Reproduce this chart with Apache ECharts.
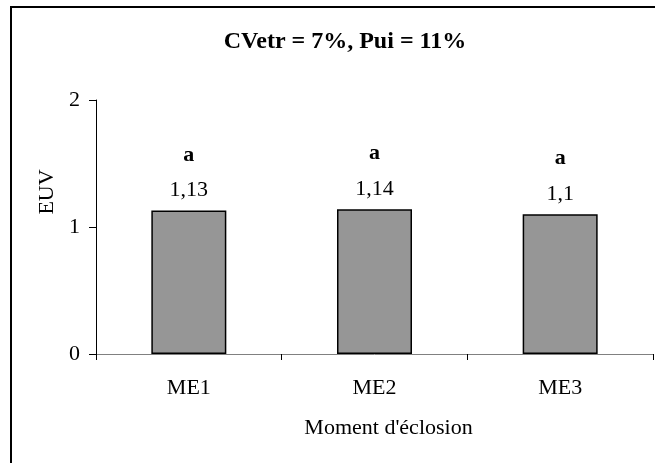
<!DOCTYPE html>
<html>
<head>
<meta charset="utf-8">
<script src="https://cdn.jsdelivr.net/npm/echarts@6/dist/echarts.min.js"></script>
<style>
html,body{margin:0;padding:0;background:#fff;}
#c{width:655px;height:463px;}
</style>
</head>
<body>
<div id="c"></div>
<script>
const categories = ['ME1', 'ME2', 'ME3'];
const values = [1.13, 1.14, 1.1];
const valueLabels = ['1,13', '1,14', '1,1'];
const letters = ['a', 'a', 'a'];
const yTicks = [0, 1, 2];
const titleText = 'CVetr = 7%, Pui = 11%';
const xName = "Moment d'éclosion";
const yName = 'EUV';

const FONT = '"Liberation Serif", "Times New Roman", serif';
const chart = echarts.init(document.getElementById('c'));
chart.setOption({
  backgroundColor: '#fff',
  animation: false,
  title: {
    text: titleText,
    left: 340, top: 25, textAlign: 'center',
    textStyle: { fontFamily: FONT, fontSize: 24, fontWeight: 'bold', color: '#000' }
  },
  graphic: [{
    type: 'rect', shape: { x: 11, y: 7, width: 700, height: 500 },
    style: { fill: 'none', stroke: '#000', lineWidth: 2 }, silent: true
  }],
  grid: { left: 96, right: 2, top: 100, bottom: 109 },
  xAxis: {
    type: 'category', data: categories,
    name: xName, nameLocation: 'middle', nameGap: 63,
    nameTextStyle: { fontFamily: FONT, fontSize: 22, color: '#000', padding: [0, 0, 0, 28] },
    axisLine: { lineStyle: { color: '#808080', width: 1 } },
    axisTick: { show: true, length: 6, lineStyle: { color: '#000' } },
    axisLabel: { fontFamily: FONT, fontSize: 22, color: '#000', margin: 23 }
  },
  yAxis: {
    type: 'value', min: yTicks[0], max: yTicks[yTicks.length - 1], interval: 1,
    name: yName, nameLocation: 'middle', nameGap: 34,
    nameTextStyle: { fontFamily: FONT, fontSize: 22, color: '#000', padding: [0, 0, 0, 70] },
    axisLine: { show: true, lineStyle: { color: '#000', width: 1 } },
    axisTick: { show: true, length: 7, lineStyle: { color: '#000' } },
    axisLabel: { fontFamily: FONT, fontSize: 22, color: '#000', margin: 16 },
    splitLine: { show: false }
  },
  series: [{
    type: 'bar',
    data: values,
    barWidth: 75,
    itemStyle: { color: '#969696', borderColor: '#000', borderWidth: 1.5 },
    label: {
      show: true, position: 'top', distance: 3,
      formatter: p => '{l|' + letters[p.dataIndex] + '}\n{v|' + valueLabels[p.dataIndex] + '}',
      rich: {
        l: { fontFamily: FONT, fontSize: 22, fontWeight: 'bold', color: '#000', lineHeight: 35 },
        v: { fontFamily: FONT, fontSize: 22, color: '#000', lineHeight: 35 }
      }
    }
  }]
});
</script>
</body>
</html>
